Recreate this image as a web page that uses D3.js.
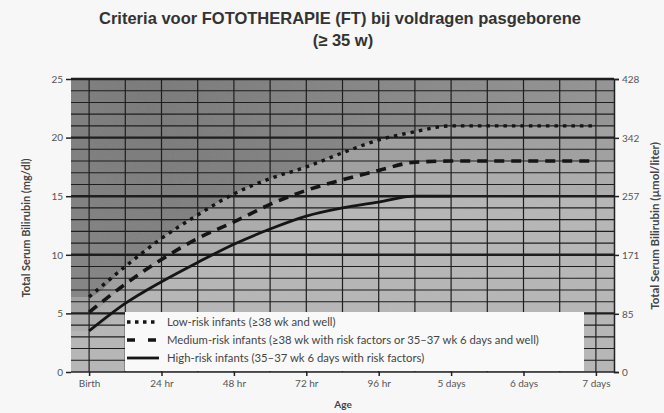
<html>
<head>
<script src="https://d3js.org/d3.v7.min.js"></script>
<style>
  body { margin: 0; background: #f7f7f7; }
  svg text { font-family: "Lato", "Open Sans", sans-serif; }
  .tick text { fill: #555; font-size: 10px; }
  .tick line { stroke: #222; stroke-width: 1.5; }
  .domain { stroke: #222; stroke-width: 1.5; }
</style>
</head>
<body>
<div id="chart"></div>
<script>
// hours after birth (every 12 h)
var hours = [0, 12, 24, 36, 48, 60, 72, 84, 96, 108, 120, 132, 144, 156, 168];
var lowRisk = [6.4, 9.0, 11.4, 13.4, 15.2, 16.5, 17.5, 18.7, 19.8, 20.5, 21, 21, 21, 21, 21];
var mediumRisk = [5.1, 7.5, 9.6, 11.4, 12.8, 14.3, 15.5, 16.4, 17.2, 17.9, 18, 18, 18, 18, 18];
var highRisk = [3.5, 5.85, 7.7, 9.35, 10.9, 12.2, 13.3, 14.0, 14.5, 15.0, 15.0];

var xTickHours = [0, 24, 48, 72, 96, 120, 144, 168];
var xTickLabels = ["Birth", "24 hr", "48 hr", "72 hr", "96 hr", "5 days", "6 days", "7 days"];
var yTicks = [0, 5, 10, 15, 20, 25];
var umolTicks = [0, 85, 171, 257, 342, 428];

var legendLabels = [
  "Low-risk infants (\u226538 wk and well)",
  "Medium-risk infants (\u226538 wk with risk factors or 35\u201337 wk 6 days and well)",
  "High-risk infants (35\u201337 wk 6 days with risk factors)"
];

var width = 664, height = 413;

var svg = d3.select("#chart").append("svg")
    .attr("width", width)
    .attr("height", height);

var x = d3.scaleLinear().domain([-6, 174]).range([71, 614]);
var y = d3.scaleLinear().domain([0, 25]).range([372, 79]);
var y2 = d3.scaleLinear().domain([0, 428]).range([372, 79]);

function pts(vals) {
  return vals.map(function(v, i) { return [hours[i], v]; });
}
// stretch a series over the whole plot width, only for the shaded bands
function ext(vals) {
  var p = pts(vals);
  var last = p[p.length - 1];
  return [[-6, p[0][1]]].concat(p).concat([[174, last[1]]]);
}

var curve = d3.curveMonotoneX;
var line = d3.line()
    .x(function(d) { return x(d[0]); })
    .y(function(d) { return y(d[1]); })
    .curve(curve);

var defs = svg.append("defs");
var grad = defs.append("radialGradient").attr("id", "topGrad")
    .attr("gradientUnits", "userSpaceOnUse")
    .attr("cx", 150).attr("cy", 110).attr("r", 480);
grad.append("stop").attr("offset", "0%").attr("stop-color", "#767676");
grad.append("stop").attr("offset", "45%").attr("stop-color", "#838383");
grad.append("stop").attr("offset", "100%").attr("stop-color", "#939393");

var noise = defs.append("filter").attr("id", "grain");
noise.append("feTurbulence").attr("type", "fractalNoise")
    .attr("baseFrequency", 0.9).attr("numOctaves", 1).attr("result", "n");
noise.append("feColorMatrix").attr("type", "matrix")
    .attr("values", "0 0 0 0 0.5  0 0 0 0 0.5  0 0 0 0 0.5  0 0 0 0.16 0");
noise.append("feComposite").attr("in2", "SourceGraphic").attr("operator", "in");

var plot = svg.append("g");

// base (lightest) band
plot.append("rect")
    .attr("x", x(-6)).attr("y", y(25))
    .attr("width", x(174) - x(-6)).attr("height", y(0) - y(25))
    .attr("fill", "#b6b6b6");

// band above the low-risk curve
plot.append("path").datum(ext(lowRisk))
    .attr("d", d3.area().x(function(d) { return x(d[0]); })
      .y0(y(25)).y1(function(d) { return y(d[1]); }).curve(curve))
    .attr("fill", "url(#topGrad)");

// bands between curves
var bands = [
  { top: ext(lowRisk), bottom: ext(mediumRisk), fill: "#9e9e9e" },
  { top: ext(mediumRisk), bottom: ext(highRisk), fill: "#ababab" }
];
bands.forEach(function(b) {
  var topPath = line(b.top);
  var botPath = line(b.bottom.slice().reverse());
  plot.append("path")
    .attr("d", topPath + "L" + botPath.slice(1) + "Z")
    .attr("fill", b.fill);
});

// grain
plot.append("rect")
    .attr("x", x(-6)).attr("y", y(25))
    .attr("width", x(174) - x(-6)).attr("height", y(0) - y(25))
    .attr("fill", "#888")
    .attr("filter", "url(#grain)");

// horizontal grid every 1 mg/dl
var hLines = d3.range(1, 26);
plot.selectAll(".hgrid").data(hLines).enter().append("line")
    .attr("x1", x(-6)).attr("x2", x(174))
    .attr("y1", function(d) { return y(d); })
    .attr("y2", function(d) { return y(d); })
    .attr("stroke", "#1e1e1e")
    .attr("stroke-width", function(d) { return d % 5 === 0 ? 2.4 : 1.1; });

// vertical grid every 12 h
plot.selectAll(".vgrid").data(hours).enter().append("line")
    .attr("y1", y(25)).attr("y2", y(0))
    .attr("x1", function(d) { return x(d); })
    .attr("x2", function(d) { return x(d); })
    .attr("stroke", "#1e1e1e")
    .attr("stroke-width", 1.2);

// curves
var series = [
  { data: pts(lowRisk), dash: "3.5,5", width: 3.4 },
  { data: pts(mediumRisk), dash: "10,7", width: 3.6 },
  { data: pts(highRisk), dash: null, width: 2.8 }
];
series.forEach(function(s) {
  plot.append("path").datum(s.data)
    .attr("d", line)
    .attr("fill", "none")
    .attr("stroke", "#151515")
    .attr("stroke-width", s.width)
    .attr("stroke-dasharray", s.dash);
});

// legend
var lg = svg.append("g");
lg.append("rect")
    .attr("x", 125).attr("y", 312)
    .attr("width", 459).attr("height", 59)
    .attr("fill", "#f9f9f9");
var legendRows = lg.selectAll(".lrow").data(legendLabels).enter().append("g")
    .attr("transform", function(d, i) { return "translate(127," + (322 + i * 18) + ")"; });
legendRows.append("line")
    .attr("x1", 0).attr("x2", 32)
    .attr("stroke", "#151515")
    .attr("stroke-width", function(d, i) { return series[i].width; })
    .attr("stroke-dasharray", function(d, i) { return i === 0 ? "3.5,4.5" : i === 1 ? "8,13" : null; });
legendRows.append("text")
    .attr("x", 40).attr("dy", "0.35em")
    .attr("fill", "#444")
    .style("font-size", "11.3px")
    .text(function(d) { return d; });

// axes
var left = svg.append("g").attr("transform", "translate(71,0)")
    .call(d3.axisLeft(y).tickValues(yTicks).tickSize(5).tickPadding(3));
left.select(".domain").remove();

var right = svg.append("g").attr("transform", "translate(614,0)")
    .call(d3.axisRight(y2).tickValues(umolTicks).tickSize(5).tickPadding(3));
right.select(".domain").attr("stroke-width", 2);

var bottom = svg.append("g").attr("transform", "translate(0,372)")
    .call(d3.axisBottom(x).tickValues(xTickHours).tickSize(4).tickPadding(4)
      .tickFormat(function(d, i) { return xTickLabels[i]; }));
bottom.select(".domain").attr("d", "M" + x(-6) + ",0H" + x(174));

svg.append("line")
    .attr("x1", x(-6)).attr("x2", x(174))
    .attr("y1", y(25)).attr("y2", y(25))
    .attr("stroke", "#1e1e1e").attr("stroke-width", 2);

// titles
var titleFont = "'Liberation Sans', Arial, sans-serif";
svg.append("text")
    .attr("x", 340).attr("y", 24)
    .attr("text-anchor", "middle")
    .attr("fill", "#333")
    .style("font-family", titleFont)
    .style("font-size", "16.5px").style("font-weight", "bold")
    .text("Criteria voor FOTOTHERAPIE (FT) bij voldragen pasgeborene");
svg.append("text")
    .attr("x", 343).attr("y", 46)
    .attr("text-anchor", "middle")
    .attr("fill", "#333")
    .style("font-family", titleFont)
    .style("font-size", "16.5px").style("font-weight", "bold")
    .text("(\u2265 35 w)");

svg.append("text")
    .attr("x", 343).attr("y", 408)
    .attr("text-anchor", "middle")
    .attr("fill", "#444")
    .style("font-size", "10px").style("font-weight", "bold")
    .text("Age");

svg.append("text")
    .attr("transform", "translate(30,228) rotate(-90)")
    .attr("text-anchor", "middle")
    .attr("fill", "#444")
    .style("font-size", "11px").style("font-weight", "bold")
    .text("Total Serum Bilirubin (mg/dl)");

svg.append("text")
    .attr("transform", "translate(659,226) rotate(-90)")
    .attr("text-anchor", "middle")
    .attr("fill", "#444")
    .style("font-size", "11.5px").style("font-weight", "bold")
    .text("Total Serum Bilirubin (\u00b5mol/liter)");
</script>
</body>
</html>
